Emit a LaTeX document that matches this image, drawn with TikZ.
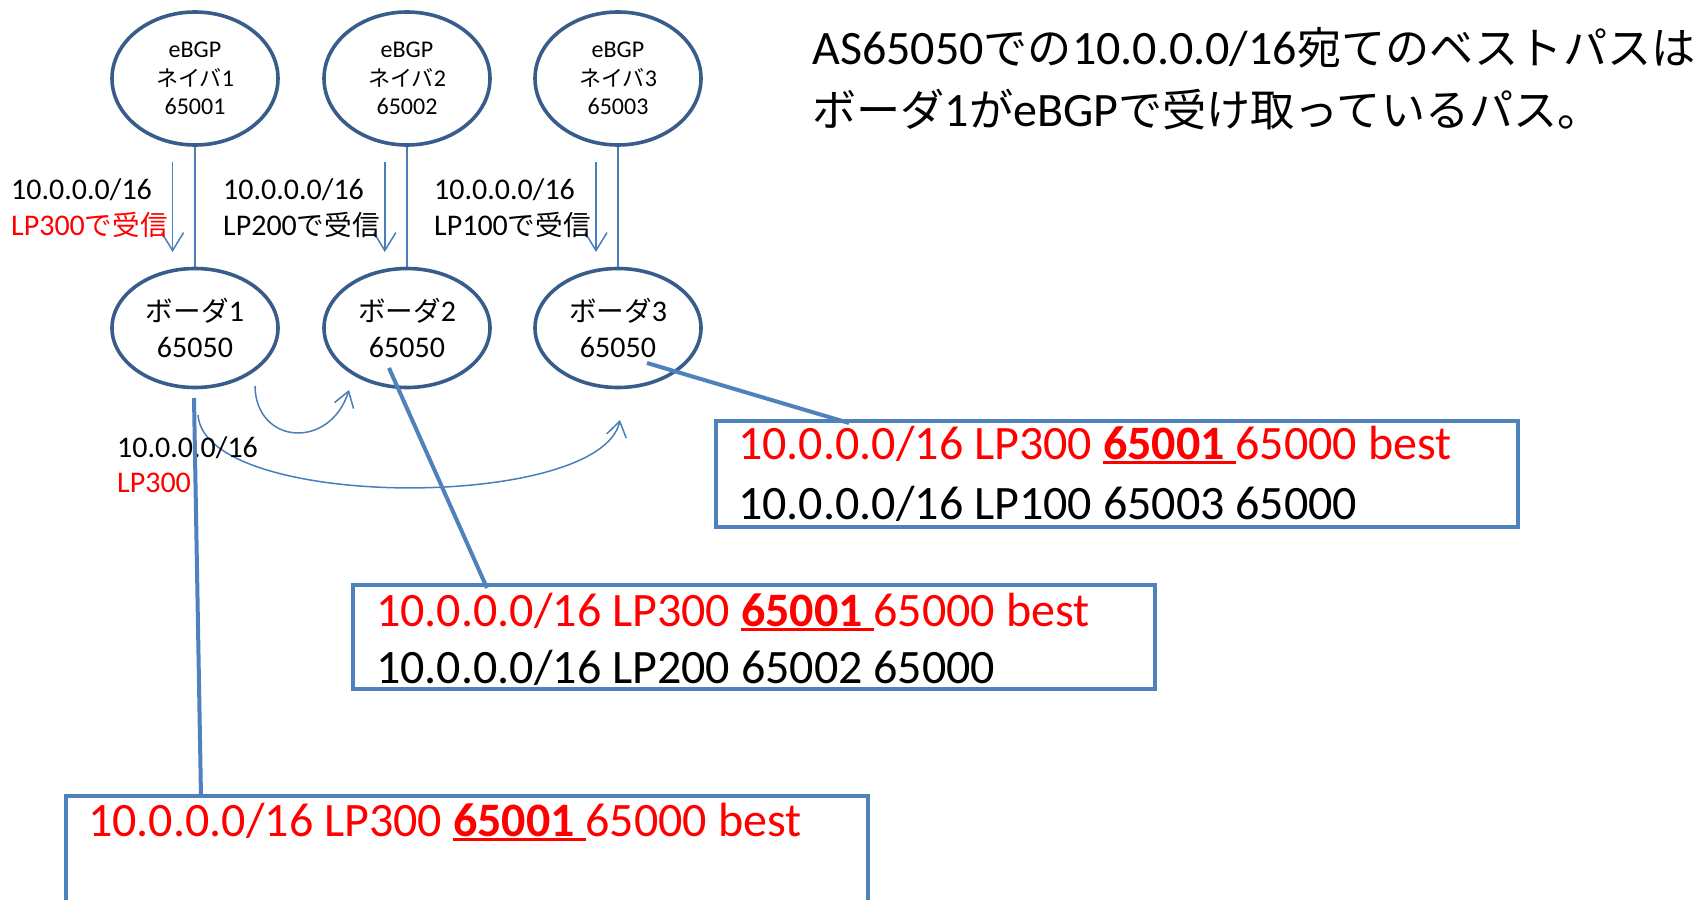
\documentclass[tikz,border=0pt]{standalone}
\usepackage{fontspec}
\setmainfont{Carlito}
\newfontfamily\jp[Scale=0.92]{Noto Sans CJK JP}
\usetikzlibrary{arrows.meta,shapes.geometric}
\definecolor{ellblue}{RGB}{56,93,138}
\definecolor{lnblue}{RGB}{74,126,187}
\definecolor{boxblue}{RGB}{79,129,189}
\definecolor{myred}{RGB}{255,0,0}
\newsavebox\myulbox
\newcommand\myul[1]{\sbox\myulbox{#1}\rlap{\rule[-0.11em]{\wd\myulbox}{0.065em}}\usebox\myulbox}
\begin{document}
\begin{tikzpicture}[x=1pt,y=-1pt,
  nbr/.style={ellipse,draw=ellblue,line width=3.6pt,fill=white,minimum width=166pt,minimum height=133pt,inner sep=0pt,align=center,font=\fontsize{24}{28.5}\selectfont},
  bdr/.style={ellipse,draw=ellblue,line width=3.6pt,fill=white,minimum width=166pt,minimum height=119pt,inner sep=0pt,align=center,font=\fontsize{30}{36}\selectfont},
  thinln/.style={draw=lnblue,line width=1.5pt},
  recv/.style={thinln,-{Straight Barb[length=18pt,width=22pt]}},
  curv/.style={thinln,-{Straight Barb[length=15pt,width=20pt]}},
  callout/.style={draw=boxblue,line width=4pt},
  rib/.style={draw=boxblue,line width=4pt,minimum width=802pt,inner sep=0pt},
  lbl/.style={anchor=base west,inner sep=0pt,font=\fontsize{30}{36}\selectfont},
  big/.style={anchor=base west,inner sep=0pt,font=\fontsize{48}{58}\selectfont},
]
\useasboundingbox (0,0) rectangle (1707,899);

% neighbours
\node[nbr] (n1) at (195,78.5) {eBGP\\{\jp ネイバ}1\\65001};
\node[nbr] (n2) at (407,78.5) {eBGP\\{\jp ネイバ}2\\65002};
\node[nbr] (n3) at (618,78.5) {eBGP\\{\jp ネイバ}3\\65003};
% borders
\node[bdr] (b1) at (195,328) {{\jp ボーダ}1\\65050};
\node[bdr] (b2) at (407,328) {{\jp ボーダ}2\\65050};
\node[bdr] (b3) at (618,328) {{\jp ボーダ}3\\65050};

\draw[thinln] (n1.south) -- (b1.north);
\draw[thinln] (n2.south) -- (b2.north);
\draw[thinln] (n3.south) -- (b3.north);

% receive arrows
\coordinate (a1s) at (172.6,162); \coordinate (a1e) at (172.6,252);
\coordinate (a2s) at (384.8,162); \coordinate (a2e) at (384.8,252);
\coordinate (a3s) at (596,162);   \coordinate (a3e) at (596,252);
\draw[recv] (a1s) -- (a1e);
\draw[recv] (a2s) -- (a2e);
\draw[recv] (a3s) -- (a3e);

% labels
\node[lbl] (l1a) at (11,199) {10.0.0.0/16};
\node[lbl,text=myred] (l1b) at (11,235) {LP300{\jp で受信}};
\node[lbl] (l2a) at (223,199) {10.0.0.0/16};
\node[lbl] (l2b) at (223,235) {LP200{\jp で受信}};
\node[lbl] (l3a) at (434,199) {10.0.0.0/16};
\node[lbl] (l3b) at (434,235) {LP100{\jp で受信}};

% iBGP propagation curves
\coordinate (c1s) at (255,386); \coordinate (c1e) at (349,390);
\draw[curv] (c1s) .. controls (256,445) and (330,450) .. (c1e);
\coordinate (c2s) at (198,415); \coordinate (c2e) at (620,420);
\draw[curv] (c2s) .. controls (205,511) and (600,511) .. (c2e);
\node[lbl] (l4a) at (117,457) {10.0.0.0/16};
\node[lbl,text=myred] (l4b) at (117,492) {LP300};

% RIB boxes
\node[rib,minimum height=106pt] (r3) at (1117,474) {};
\node[rib,minimum height=104pt] (r2) at (754,637) {};
\node[rib,minimum height=130pt] (r1) at (467,861) {};

\node[big,text=myred] (t3a) at (738,459) {10.0.0.0/16 LP300 \myul{\textbf{65001 }}65000 best};
\node[big] (t3b) at (738,519) {10.0.0.0/16 LP100 65003 65000};
\node[big,text=myred] (t2a) at (376,626) {10.0.0.0/16 LP300 \myul{\textbf{65001 }}65000 best};
\node[big] (t2b) at (376,683) {10.0.0.0/16 LP200 65002 65000};
\node[big,text=myred] (t1a) at (88,836) {10.0.0.0/16 LP300 \myul{\textbf{65001 }}65000 best};

% callout lines
\coordinate (k1s) at (194,398); \coordinate (k1e) at (201,797);
\coordinate (k2s) at (389,368); \coordinate (k2e) at (487,588);
\coordinate (k3s) at (647,363); \coordinate (k3e) at (849,423);
\draw[callout] (k1s) -- (k1e);
\draw[callout] (k2s) -- (k2e);
\draw[callout] (k3s) -- (k3e);

% title
\node[big] (ti1) at (812,65) {AS65050{\jp での}10.0.0.0/16{\jp 宛てのベストパスは}};
\node[big] (ti2) at (812,126) {{\jp ボーダ}1{\jp が}eBGP{\jp で受け取っているパス。}};
\end{tikzpicture}
\end{document}
